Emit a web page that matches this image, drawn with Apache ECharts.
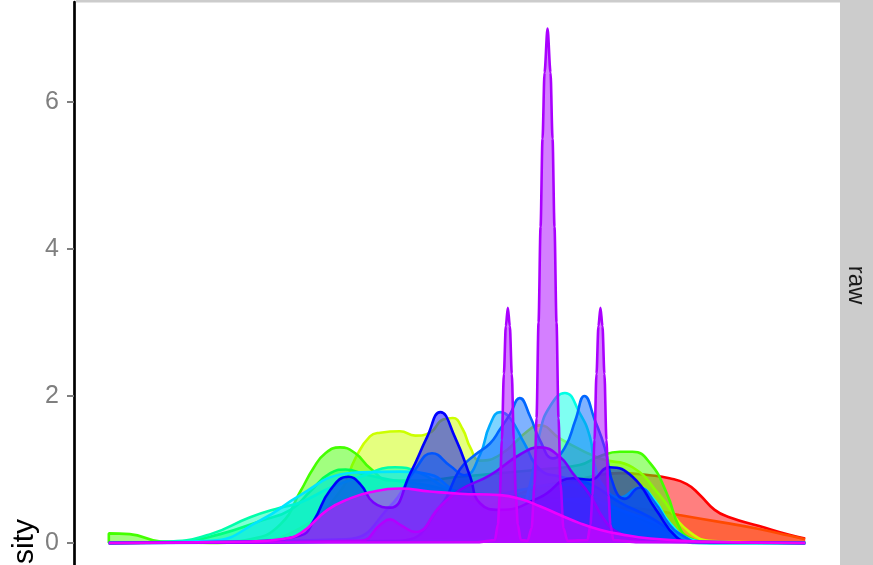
<!DOCTYPE html>
<html>
<head>
<meta charset="utf-8">
<script src="https://cdn.jsdelivr.net/npm/echarts@6/dist/echarts.min.js"></script>
<style>
html,body{margin:0;padding:0;background:#fff;}
#chart{width:873px;height:565px;}
</style>
</head>
<body>
<div id="chart"></div>
<script>
// ---- data (x, density) ----
var seriesNames = ['s01','s02','s03','s04','s05','s06','s07','s08','s09','s10','s11','s12','s13','s14'];
var seriesColors = ['#FF0000','#FF4A00','#CCFF00','#44FF00','#00FF55','#00FFAA','#00E5FF','#00FFE5','#00AAFF','#0066FF','#0000FF','#7700FF','#AA00FF','#EE00FF'];
var yTicks = [0, 2, 4, 6];
var stripLabel = 'raw';
var yTitle = 'density';

var sRed = [[0,0],[2.75,0.02],[4.18,0.12],[5.19,0.4],[6.05,0.72],[6.76,0.87],[7.34,0.95],[7.77,0.92],[8.05,0.88],[8.3,0.8],[8.48,0.66],[8.70,0.45],[8.91,0.35],[9.34,0.23],[9.77,0.11],[10,0.06]];
var sOrange = [[0,0],[3.5,0.02],[5.0,0.15],[5.62,0.3],[6.48,0.42],[7.34,0.48],[7.91,0.43],[8.19,0.38],[8.81,0.28],[9.34,0.19],[9.77,0.1],[10,0.05]];
var sYellowGreen = [[0,0],[2.03,0.03],[2.75,0.2],[3.32,0.7],[3.54,1.15],[3.75,1.45],[3.90,1.5],[4.18,1.52],[4.40,1.46],[4.61,1.5],[4.80,1.68],[4.94,1.7],[5.08,1.55],[5.19,1.3],[5.33,1.12],[5.62,1.2],[6.05,1.55],[6.19,1.6],[6.48,1.42],[7.05,1.15],[7.52,1.03],[7.91,0.65],[8.34,0.15],[8.77,0.02],[10,0]];
var sGreen = [[0,0],[0,0.13],[0.3,0.12],[0.745,0.02],[1.46,0],[2.03,0.05],[2.46,0.25],[2.75,0.7],[2.94,1.02],[3.11,1.22],[3.32,1.3],[3.54,1.22],[3.75,1.02],[4.04,0.85],[4.47,0.85],[5.04,0.9],[5.62,0.95],[6.19,1.0],[6.76,1.06],[7.05,1.18],[7.34,1.24],[7.52,1.24],[7.77,1.09],[8.01,0.68],[8.19,0.22],[8.34,0.07],[8.62,0.01],[10,0]];
var sSpring = [[0,0],[1.03,0.02],[1.60,0.12],[2.18,0.3],[2.61,0.45],[2.89,0.7],[3.18,0.95],[3.40,1.0],[3.68,0.93],[4.04,0.86],[4.47,0.8],[5.04,0.7],[5.62,0.65],[6.19,0.62],[6.76,0.56],[7.34,0.45],[7.91,0.2],[8.34,0.05],[8.77,0],[10,0]];
var sAqua = [[0,0],[0.89,0.02],[1.46,0.12],[2.03,0.35],[2.46,0.48],[2.75,0.55],[3.18,0.75],[3.61,0.9],[4.11,1.03],[4.47,0.95],[4.90,0.72],[5.33,0.62],[5.90,0.72],[6.48,0.8],[7.05,0.6],[7.62,0.3],[8.19,0.05],[8.48,0],[10,0]];
var sCyan = [[0,0],[1.46,0.03],[2.18,0.31],[2.75,0.65],[3.32,0.93],[3.61,0.96],[4.18,0.97],[4.61,0.93],[4.90,0.75],[5.19,0.55],[5.62,0.45],[6.19,0.55],[6.76,0.6],[7.34,0.45],[7.91,0.25],[8.34,0.05],[8.77,0],[10,0]];
var sTurq = [[0,0],[5.62,0.05],[5.90,0.4],[6.05,0.8],[6.19,1.5],[6.33,1.85],[6.55,2.04],[6.76,1.77],[6.91,1.44],[6.98,1.05],[7.12,0.75],[7.34,0.62],[7.62,0.75],[7.84,0.58],[8.05,0.28],[8.34,0.05],[8.62,0],[10,0]];
var sSky = [[0,0],[3.40,0.05],[4.04,0.5],[4.40,1.0],[4.64,1.22],[4.90,1.05],[5.11,0.92],[5.33,1.2],[5.47,1.6],[5.62,1.78],[5.76,1.7],[5.97,1.35],[6.19,1.0],[6.48,0.9],[6.91,0.8],[7.34,0.55],[7.77,0.35],[8.19,0.1],[8.48,0],[10,0]];
var sAzure = [[0,0],[4.18,0.03],[4.76,0.5],[5.04,1.0],[5.26,1.2],[5.47,1.35],[5.62,1.55],[5.76,1.75],[5.90,1.97],[6.05,1.72],[6.19,1.4],[6.38,1.15],[6.55,1.3],[6.70,1.67],[6.83,2.0],[6.98,1.67],[7.12,1.3],[7.26,0.75],[7.41,0.6],[7.62,0.75],[7.84,0.55],[8.05,0.25],[8.24,0.1],[8.48,0.01],[10,0]];
var sBlue = [[0,0],[2.03,0.02],[2.75,0.1],[2.94,0.3],[3.18,0.72],[3.44,0.9],[3.61,0.8],[3.80,0.55],[4.04,0.48],[4.33,0.95],[4.57,1.44],[4.76,1.78],[4.97,1.44],[5.19,0.9],[5.33,0.54],[5.62,0.45],[6.19,0.62],[6.66,0.88],[6.91,0.86],[7.19,1.03],[7.52,0.9],[7.86,0.45],[8.15,0.08],[8.34,0.02],[10,0]];
var sViolet = [[0,0],[3.61,0.03],[3.90,0.25],[4.04,0.32],[4.18,0.25],[4.40,0.15],[4.76,0.5],[5.04,0.72],[5.47,0.92],[5.90,1.2],[6.19,1.3],[6.48,1.17],[6.66,0.95],[6.91,0.65],[7.12,0.31],[7.34,0.13],[7.77,0.02],[10,0]];
var sPurple = [[0,0],[5.3,0.01],[5.544,0.04],[5.587,0.25],[5.615,0.65],[5.644,1.4],[5.673,2.3],[5.701,2.95],[5.73,3.2],[5.759,2.95],[5.787,2.3],[5.816,1.4],[5.845,0.65],[5.873,0.25],[5.916,0.04],
  [6.013,0.03],[6.071,0.2],[6.114,0.8],[6.142,1.7],[6.171,3.0],[6.20,4.3],[6.228,5.5],[6.257,6.4],[6.30,7.0],[6.343,6.4],[6.372,5.5],[6.40,4.3],[6.429,3.0],[6.458,1.7],[6.486,0.8],[6.529,0.2],[6.587,0.03],
  [6.874,0.04],[6.917,0.25],[6.945,0.65],[6.974,1.4],[7.003,2.3],[7.031,2.95],[7.06,3.2],[7.089,2.95],[7.117,2.3],[7.146,1.4],[7.175,0.65],[7.203,0.25],[7.246,0.04],[7.6,0.01],[10,0]];
var sMagenta = [[0,0],[2.03,0.02],[2.46,0.05],[2.75,0.13],[3.14,0.45],[3.45,0.6],[3.75,0.69],[4.18,0.74],[4.61,0.7],[5.04,0.67],[5.62,0.65],[5.90,0.6],[6.19,0.5],[6.48,0.38],[6.76,0.27],[7.05,0.18],[7.34,0.12],[7.77,0.06],[8.48,0.02],[10,0]];

var seriesData = [sRed,sOrange,sYellowGreen,sGreen,sSpring,sAqua,sCyan,sTurq,sSky,sAzure,sBlue,sViolet,sPurple,sMagenta];

var chart = echarts.init(document.getElementById('chart'), null, {renderer:'canvas'});
var series = seriesData.map(function(d, i){
  return {
    name: seriesNames[i],
    type: 'line',
    data: d,
    smooth: i === 12 ? 0.3 : 0.5,
    smoothMonotone: i === 12 ? 'x' : undefined,
    showSymbol: false,
    symbol: 'none',
    z: 2 + i,
    lineStyle: {color: seriesColors[i], width: 2.6},
    itemStyle: {color: seriesColors[i]},
    areaStyle: {color: seriesColors[i], opacity: 0.5},
    silent: true
  };
});

chart.setOption({
  animation: false,
  backgroundColor: '#ffffff',
  grid: {left: 74, top: 2, width: 766, height: 567.4, containLabel: false, outerBoundsMode: 'none'},
  xAxis: {
    type: 'value', min: -0.5, max: 10.5,
    show: false
  },
  yAxis: {
    type: 'value', min: -0.36, max: 7.36,
    axisLine: {show: true, onZero: false, lineStyle: {color: '#000000', width: 2.7}},
    axisTick: {show: true, length: 7, customValues: yTicks, lineStyle: {color: '#7F7F7F', width: 2}},
    axisLabel: {show: true, customValues: yTicks, margin: 15, fontSize: 25, color: '#7F7F7F', fontFamily: 'Liberation Sans, Arial, sans-serif'},
    splitLine: {show: false}
  },
  series: series,
  graphic: [
    {type: 'rect', shape: {x: 840, y: 0, width: 33, height: 565}, style: {fill: '#CCCCCC'}, z: 100},
    {type: 'rect', shape: {x: 76, y: 0, width: 764, height: 2.5}, style: {fill: '#CCCCCC'}, z: 100},
    {type: 'text', x: 856, y: 285, rotation: -Math.PI/2, z: 101,
      style: {text: stripLabel, fontSize: 24, fill: '#1A1A1A', fontFamily: 'Liberation Sans, Arial, sans-serif', textAlign: 'center', textVerticalAlign: 'middle'}},
    {type: 'text', x: 25, y: 519, rotation: Math.PI/2, z: 101,
      style: {text: yTitle, fontSize: 30, fill: '#000000', fontFamily: 'Liberation Sans, Arial, sans-serif', textAlign: 'right', textVerticalAlign: 'middle'}}
  ]
});
</script>
</body>
</html>
